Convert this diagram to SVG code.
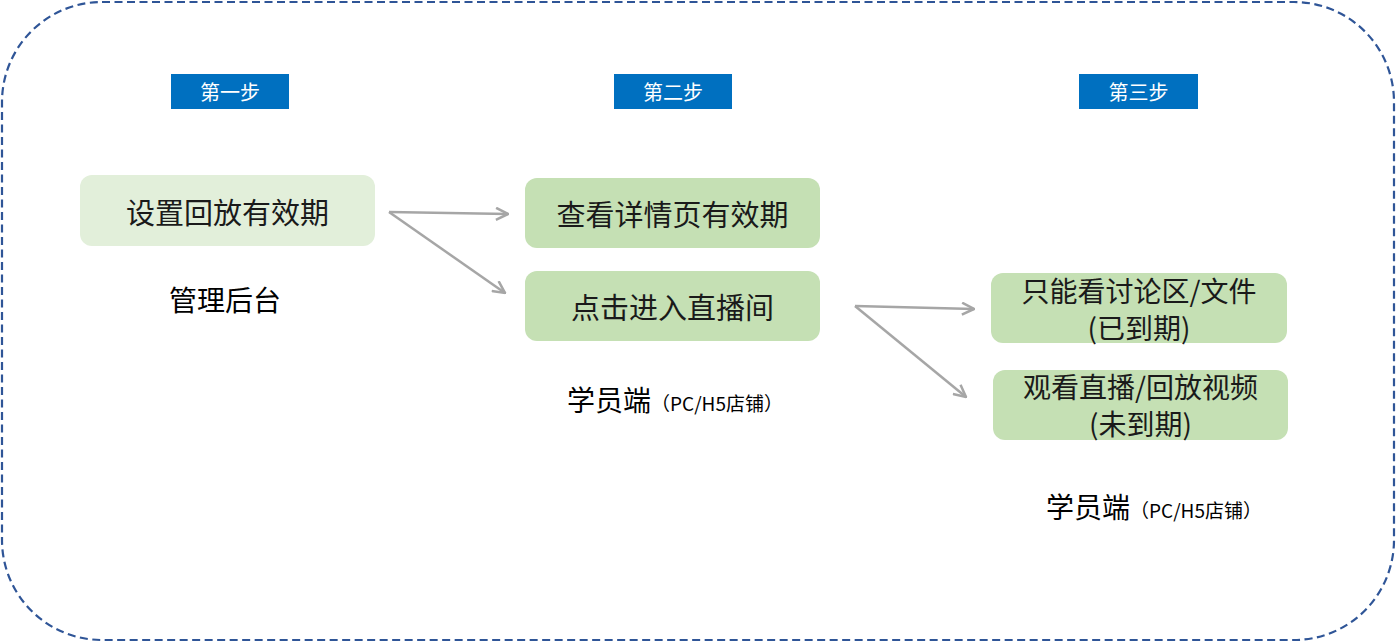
<svg xmlns="http://www.w3.org/2000/svg" width="1396" height="642" viewBox="0 0 1396 642">
<style>
.step{fill:#0070C0}
.steptxt{fill:#fff;font-family:"Noto Sans CJK SC","Liberation Sans",sans-serif;font-size:20px;text-anchor:middle;dominant-baseline:central}
.n1{fill:#E2EFDA}
.n2{fill:#C5E0B4}
.t{fill:#1a1a1a;font-family:"Noto Sans CJK SC","Liberation Sans",sans-serif;font-size:29px;text-anchor:middle;dominant-baseline:central}
.t2{font-size:28px}
.lbl{fill:#000;font-family:"Noto Sans CJK SC","Liberation Sans",sans-serif;font-size:28px}
.sm{font-size:19px}
.conn{stroke:#A6A6A6;stroke-width:2.5;fill:none;marker-end:url(#arr)}
</style>
<defs>
<marker id="arr" viewBox="0 0 14 14" refX="13" refY="7" markerWidth="14" markerHeight="14" markerUnits="userSpaceOnUse" orient="auto">
<path d="M1,1 L13,7 L1,13" fill="none" stroke="#A6A6A6" stroke-width="2.5"/>
</marker>
</defs>
<rect x="2" y="2" width="1392" height="638" rx="100" ry="100" fill="none" stroke="#2F5597" stroke-width="2.2" stroke-dasharray="8,4.5"/>
<g id="step1"><rect class="step" x="171" y="74" width="118" height="35"/><text class="steptxt" x="230" y="91.5">第一步</text></g>
<g id="step2"><rect class="step" x="614" y="74" width="118" height="35"/><text class="steptxt" x="673" y="91.5">第二步</text></g>
<g id="step3"><rect class="step" x="1079" y="74" width="119" height="35"/><text class="steptxt" x="1138.5" y="91.5">第三步</text></g>
<g id="n-set"><rect class="n1" x="80" y="175" width="295" height="71" rx="12"/><text class="t" x="227.5" y="210.5">设置回放有效期</text></g>
<g id="n-detail"><rect class="n2" x="525" y="178" width="295" height="70" rx="12"/><text class="t" x="672.5" y="213">查看详情页有效期</text></g>
<g id="n-enter"><rect class="n2" x="525" y="271" width="295" height="70" rx="12"/><text class="t" x="672.5" y="306">点击进入直播间</text></g>
<g id="n-expired"><rect class="n2" x="991" y="273" width="296" height="70" rx="12"/><text class="t t2"><tspan x="1139" y="290">只能看讨论区/文件</tspan><tspan x="1139" y="327">(已到期)</tspan></text></g>
<g id="n-valid"><rect class="n2" x="993" y="370" width="295" height="70" rx="12"/><text class="t t2"><tspan x="1140.5" y="386">观看直播/回放视频</tspan><tspan x="1140.5" y="423">(未到期)</tspan></text></g>
<g id="lbl-admin"><text class="lbl" x="225" y="311" text-anchor="middle">管理后台</text></g>
<g id="lbl-student1"><text class="lbl" x="567" y="411">学员端<tspan class="sm">（PC/H5店铺）</tspan></text></g>
<g id="lbl-student2"><text class="lbl" x="1046" y="518">学员端<tspan class="sm">（PC/H5店铺）</tspan></text></g>
<g id="connectors">
<path class="conn" d="M389,212 L508,214"/>
<path class="conn" d="M389,212 L505,293"/>
<path class="conn" d="M855,306 L974,309"/>
<path class="conn" d="M855,306 L966,397"/>
</g>
</svg>
